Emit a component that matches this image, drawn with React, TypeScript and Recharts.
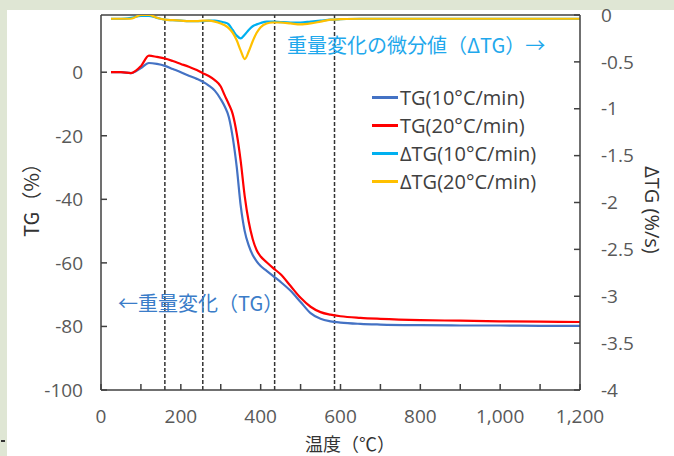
import { LineChart, Line, XAxis, YAxis, ReferenceLine, Legend } from 'recharts';

// temperature (°C) sample points shared by all four curves
const temps = [25, 50, 75, 100, 120, 140, 160, 180, 200, 220, 240, 255, 270, 285, 300, 310, 320, 330, 340, 350, 360, 370, 380, 390, 400, 415, 430, 450, 475, 500, 525, 550, 575, 600, 650, 700, 800, 900, 1000, 1100, 1200];

// TG (%) — left axis
const tg10 = [0, 0, -0.3, 1.3, 2.9, 2.6, 2.0, 1.0, 0, -1.1, -2.1, -3.0, -4.2, -5.8, -8.5, -10.8, -14, -20.5, -29.8, -42, -50, -54.5, -57.5, -59.5, -61, -62.5, -64, -66, -68.8, -72.3, -75.8, -77.6, -78.4, -78.8, -79.2, -79.4, -79.6, -79.7, -79.7, -79.8, -79.8];
const tg20 = [0, 0, -0.3, 1.9, 5.2, 4.8, 4.3, 3.5, 2.6, 1.7, 0.7, -0.3, -1.2, -2.5, -4.5, -7.3, -10, -13.2, -19.3, -28, -39, -47, -52.5, -56, -58, -59.8, -61.5, -63.6, -67.3, -71, -73.8, -75.5, -76.3, -76.8, -77.3, -77.6, -78.0, -78.2, -78.4, -78.5, -78.6];

// ΔTG (%/s) — right axis
const dtg10 = [-0.04, -0.04, -0.03, -0.01, -0.01, -0.03, -0.05, -0.055, -0.06, -0.065, -0.065, -0.065, -0.06, -0.06, -0.07, -0.08, -0.1, -0.16, -0.22, -0.25, -0.21, -0.16, -0.12, -0.1, -0.085, -0.07, -0.07, -0.075, -0.08, -0.08, -0.07, -0.06, -0.05, -0.045, -0.04, -0.04, -0.04, -0.04, -0.04, -0.04, -0.04];
const dtg20 = [-0.04, -0.04, -0.04, 0, 0, -0.03, -0.05, -0.055, -0.06, -0.065, -0.065, -0.06, -0.06, -0.07, -0.09, -0.11, -0.14, -0.19, -0.27, -0.38, -0.47, -0.39, -0.28, -0.19, -0.13, -0.09, -0.08, -0.08, -0.09, -0.1, -0.09, -0.07, -0.05, -0.045, -0.04, -0.04, -0.04, -0.04, -0.04, -0.04, -0.04];

// dashed stage boundaries (°C)
const stageTemps = [160, 255, 435, 585];

const xTicks = [0, 100, 200, 300, 400, 500, 600, 700, 800, 900, 1000, 1100, 1200];
const tgTicks = [-100, -80, -60, -40, -20, 0];
const dtgTicks = [-4, -3.5, -3, -2.5, -2, -1.5, -1, -0.5, 0];

const seriesNames = ['TG(10°C/min)', 'TG(20°C/min)', 'ΔTG(10°C/min)', 'ΔTG(20°C/min)'];

const data = temps.map((t, i) => ({ t, tg10: tg10[i], tg20: tg20[i], dtg10: dtg10[i], dtg20: dtg20[i] }));

const FONT = '"Open Sans", "Noto Sans CJK JP", sans-serif';
const CJK = '"Noto Sans CJK JP", "Noto Sans", sans-serif';
const tickStyle = { fontFamily: FONT, fontSize: 19, fill: '#595959' };
const axisStroke = { stroke: '#404040', strokeWidth: 1.5 };

const renderLegend = (props: any) => (
  <div>
    {props.payload.map((e: any) => (
      <div key={e.value} style={{ display: 'flex', alignItems: 'center', height: 28 }}>
        <span style={{ display: 'inline-block', width: 26, height: 3, background: e.color, marginRight: 2 }} />
        <span style={{ fontFamily: FONT, fontSize: 20, color: '#404040', whiteSpace: 'nowrap' }}>{e.value}</span>
      </div>
    ))}
  </div>
);

export default function App() {
  return (
    <div style={{ position: 'absolute', left: 0, top: 0, width: 674, height: 456, background: '#dfe6d4', overflow: 'hidden' }}>
      <div style={{ position: 'absolute', left: 7, top: 10, right: 0, bottom: 0, background: '#ffffff' }} />
      <div style={{ position: 'absolute', left: 1, top: 440, width: 4, height: 2, background: '#333' }} />
      <div style={{ position: 'absolute', left: 0, top: 0 }}>
        <LineChart width={674} height={456} data={data} margin={{ top: 15, right: 34, bottom: 36, left: 51 }}>
          <XAxis
            dataKey="t"
            type="number"
            domain={[0, 1200]}
            ticks={xTicks}
            interval={0}
            tickFormatter={(v: number) => (v % 200 === 0 ? v.toLocaleString('en-US') : '')}
            tick={tickStyle}
            tickSize={-6}
            tickMargin={26}
            tickLine={axisStroke}
            axisLine={axisStroke}
            height={30}
          />
          <YAxis
            yAxisId="tg"
            domain={[-100, 18]}
            ticks={tgTicks}
            interval={0}
            allowDataOverflow
            tick={tickStyle}
            tickSize={-6}
            tickMargin={24}
            tickLine={axisStroke}
            axisLine={axisStroke}
            width={50}
          />
          <YAxis
            yAxisId="dtg"
            orientation="right"
            domain={[-4, 0]}
            ticks={dtgTicks}
            interval={0}
            allowDataOverflow
            tick={{ ...tickStyle, textAnchor: 'start' }}
            tickSize={-6}
            tickMargin={27}
            tickLine={axisStroke}
            axisLine={axisStroke}
            width={60}
          />
          <ReferenceLine yAxisId="tg" y={18} stroke="#404040" strokeWidth={1.5} />
          {stageTemps.map((x) => (
            <ReferenceLine key={x} yAxisId="tg" x={x} stroke="#333333" strokeWidth={1.5} strokeDasharray="4 2" />
          ))}
          <Line yAxisId="tg" type="monotone" dataKey="tg10" name={seriesNames[0]} stroke="#4472C4" strokeWidth={2.2} dot={false} isAnimationActive={false} />
          <Line yAxisId="tg" type="monotone" dataKey="tg20" name={seriesNames[1]} stroke="#FF0000" strokeWidth={2.2} dot={false} isAnimationActive={false} />
          <Line yAxisId="dtg" type="monotone" dataKey="dtg10" name={seriesNames[2]} stroke="#00B0F0" strokeWidth={2.2} dot={false} isAnimationActive={false} />
          <Line yAxisId="dtg" type="monotone" dataKey="dtg20" name={seriesNames[3]} stroke="#FFC000" strokeWidth={2.2} dot={false} isAnimationActive={false} />
          <Legend layout="vertical" align="center" verticalAlign="middle" content={renderLegend} wrapperStyle={{ left: 372, top: 83, width: 'auto' }} />
        </LineChart>
      </div>
      <div style={{ position: 'absolute', left: 30, top: 195, transform: 'translate(-50%, -50%) rotate(-90deg)', fontFamily: CJK, fontSize: 20, color: '#333', whiteSpace: 'nowrap' }}>TG（%）</div>
      <div style={{ position: 'absolute', left: 652, top: 210, transform: 'translate(-50%, -50%) rotate(90deg)', fontFamily: FONT, fontSize: 20, color: '#333', whiteSpace: 'nowrap' }}>ΔTG (%/s)</div>
      <div style={{ position: 'absolute', left: 350, top: 443, transform: 'translate(-50%, -50%)', fontFamily: CJK, fontSize: 18, lineHeight: '18px', color: '#333', whiteSpace: 'nowrap' }}>温度（℃）</div>
      <div style={{ position: 'absolute', left: 287, top: 44, transform: 'translateY(-50%)', fontFamily: CJK, fontSize: 20, color: '#1FA8EC', whiteSpace: 'nowrap' }}>重量変化の微分値（ΔTG）→</div>
      <div style={{ position: 'absolute', left: 118, top: 302, transform: 'translateY(-50%)', fontFamily: CJK, fontSize: 20, color: '#3A7CC8', whiteSpace: 'nowrap' }}>←重量変化（TG）</div>
    </div>
  );
}
